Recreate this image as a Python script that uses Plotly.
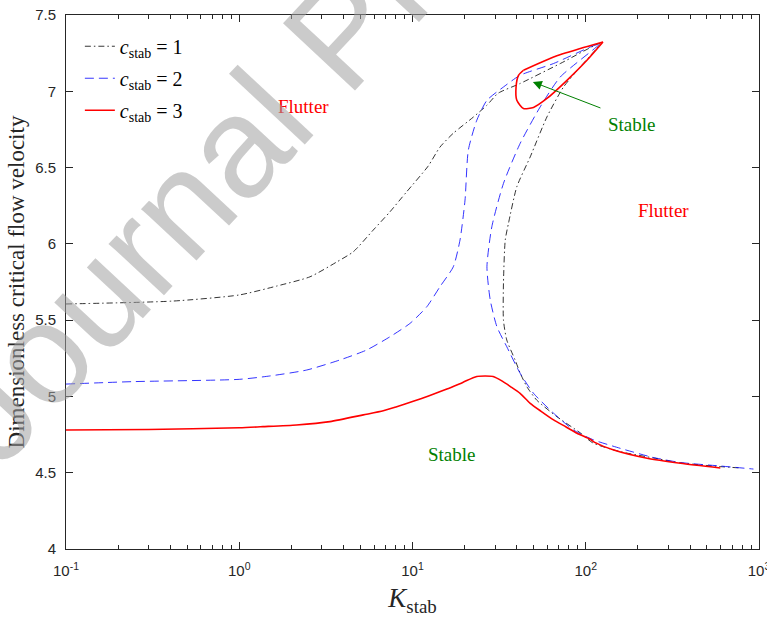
import numpy as np
import plotly.graph_objects as go

# ---- data ----
k1 = [0.1, 0.414, 1.0, 1.64, 2.56, 3.65, 4.55, 5.93, 7.41, 9.25, 12.3, 14.4, 17.2, 22.4, 26.9, 31.2, 41.8, 71.3, 121,
      93, 74.4, 59.7, 47.8, 40.0, 35.8, 34.3, 33.5, 33.5, 35.0, 39.1, 41.8, 45.7, 52.2, 68.2, 93, 110, 158, 245, 352, 598, 782]
v1 = [5.606, 5.625, 5.665, 5.723, 5.784, 5.881, 5.948, 6.09, 6.21, 6.341, 6.509, 6.634, 6.725, 6.83, 6.909, 6.987, 7.051, 7.182, 7.313,
      7.16, 7.028, 6.832, 6.57, 6.374, 6.134, 6.025, 5.743, 5.50, 5.37, 5.239, 5.154, 5.064, 4.975, 4.867, 4.761, 4.695, 4.638, 4.597, 4.564, 4.54, 4.531]

k2 = [0.1, 0.243, 1.0, 1.50, 2.45, 3.81, 5.43, 7.41, 9.68, 12.1, 14.4, 17.2, 18.8, 20.1, 21.0, 23.5, 26.9, 33.5, 41.8, 65.2, 106, 121,
      71.3, 54.6, 41.8, 33.5, 28.7, 26.9, 28.1, 30.7, 35.0, 41.8, 49.9, 65.2, 85, 111, 158, 245, 352, 598, 929]
v2 = [5.081, 5.097, 5.112, 5.134, 5.173, 5.239, 5.304, 5.391, 5.479, 5.588, 5.719, 5.85, 6.025, 6.287, 6.614, 6.81, 6.941, 7.028, 7.105, 7.182, 7.29, 7.313,
      7.094, 6.898, 6.658, 6.396, 6.112, 5.85, 5.632, 5.457, 5.326, 5.152, 5.021, 4.89, 4.78, 4.715, 4.66, 4.60, 4.567, 4.544, 4.524]

k3 = [0.1, 0.3, 1.0, 1.37, 2.14, 3.34, 5.2, 6.78, 8.11, 10.1, 12.6, 15.8, 19.5, 23.5, 29.2, 33, 36.6, 41.8, 47.8, 55,
      65.2, 77, 89, 106, 113.5, 145, 226, 352, 598]
v3 = [4.78, 4.783, 4.795, 4.802, 4.813, 4.835, 4.879, 4.906, 4.933, 4.968, 5.006, 5.048, 5.092, 5.131, 5.131, 5.10, 5.066, 5.02, 4.955, 4.904,
      4.846, 4.80, 4.759, 4.719, 4.697, 4.649, 4.595, 4.562, 4.531]

k3_loop = [43.7, 65.2, 93, 125.7, 101.6, 77.9, 59.7, 49.9, 43.7, 40.0, 39.6, 40.9, 43.7]
v3_loop = [7.138, 7.225, 7.28, 7.323, 7.203, 7.072, 6.953, 6.894, 6.887, 6.941, 7.028, 7.105, 7.138]

x_ticks = [0.1, 1, 10, 100, 1000]
x_ticklabels = ["10<sup>-1</sup>", "10<sup>0</sup>", "10<sup>1</sup>", "10<sup>2</sup>", "10<sup>3</sup>"]
y_ticks = [4, 4.5, 5, 5.5, 6, 6.5, 7, 7.5]
y_ticklabels = ["4", "4.5", "5", "5.5", "6", "6.5", "7", "7.5"]

labels = [("Flutter", 2.36, 6.90, "#ff0000"), ("Flutter", 280, 6.22, "#ff0000"),
          ("Stable", 185, 6.78, "#008000"), ("Stable", 16.9, 4.617, "#008000")]
arrow_head = (49.5, 7.061)
arrow_tail = (124, 6.887)

SERIF = "Liberation Serif, Times New Roman, serif"
SANS = "Liberation Sans, Arial, sans-serif"
AX = "#262626"

fig = go.Figure()


def add_curve(kx, vy, name, group, line, legend=True):
    """Split a curve at its turning point (max K) and draw both branches as smooth lines."""
    i = int(np.argmax(kx))
    parts = [(kx[: i + 1], vy[: i + 1]), (kx[i:], vy[i:])]
    for j, (px, py) in enumerate(parts):
        fig.add_trace(go.Scatter(x=px, y=py, mode="lines", name=name, legendgroup=group,
                                 showlegend=(legend and j == 0),
                                 line=dict(shape="spline", smoothing=0.6, **line)))


add_curve(k1, v1, "<i>c</i><sub>stab</sub> = 1", "g1", dict(color="black", width=0.8, dash="6px,3px,1.5px,3px"))
add_curve(k2, v2, "<i>c</i><sub>stab</sub> = 2", "g2", dict(color="#0000ff", width=0.8, dash="9px,5px"))
add_curve(k3, v3, "<i>c</i><sub>stab</sub> = 3", "g3", dict(color="#ff0000", width=1.6))
add_curve(k3_loop, v3_loop, "<i>c</i><sub>stab</sub> = 3", "g3", dict(color="#ff0000", width=1.6), legend=False)

for txt, kx, vy, col in labels:
    fig.add_annotation(x=np.log10(kx), y=vy, xref="x", yref="y", text=txt, showarrow=False,
                       font=dict(family=SERIF, size=19, color=col))

fig.add_annotation(x=np.log10(arrow_head[0]), y=arrow_head[1], ax=np.log10(arrow_tail[0]), ay=arrow_tail[1],
                   xref="x", yref="y", axref="x", ayref="y", text="", showarrow=True,
                   arrowhead=2, arrowsize=1.8, arrowwidth=1, arrowcolor="#008000")

# watermark
fig.add_annotation(x=0.396, y=0.966, xref="paper", yref="paper", text="Journal Pre-proof", showarrow=False,
                   textangle=-47, font=dict(family=SANS, size=143, color="rgba(160,160,160,0.55)"),
                   xanchor="center", yanchor="middle")

minor_x = [m * 10.0 ** e for e in range(-1, 3) for m in range(2, 10)]

fig.update_layout(
    width=767, height=621,
    margin=dict(l=66, r=8, t=15, b=72),
    paper_bgcolor="white", plot_bgcolor="white",
    font=dict(family=SANS, size=15, color=AX),
    showlegend=True,
    legend=dict(x=0.02, y=0.978, xanchor="left", yanchor="top", bgcolor="rgba(0,0,0,0)",
                font=dict(family=SERIF, size=20, color="black"), tracegroupgap=3, traceorder="grouped"),
    xaxis=dict(type="log", range=[-1, 3], tickmode="array", tickvals=x_ticks, ticktext=x_ticklabels,
               automargin=False,
               showgrid=False, zeroline=False, showline=True, linecolor=AX, linewidth=1, mirror="allticks",
               ticks="inside", ticklen=7, tickcolor=AX, tickwidth=1, ticklabelstandoff=8, ticklabeloverflow="allow",
               minor=dict(tickmode="array", tickvals=minor_x, ticks="inside", ticklen=4, tickcolor=AX, showgrid=False),
               tickfont=dict(family=SANS, size=15, color=AX),
               title=dict(text="<i>K</i><sub>stab</sub>", font=dict(family=SERIF, size=27, color=AX), standoff=10)),
    yaxis=dict(range=[4, 7.5], tickmode="array", tickvals=y_ticks, ticktext=y_ticklabels,
               automargin=False,
               showgrid=False, zeroline=False, showline=True, linecolor=AX, linewidth=1, mirror="allticks",
               ticks="inside", ticklen=7, tickcolor=AX, tickwidth=1, ticklabelstandoff=6,
               tickfont=dict(family=SANS, size=15, color=AX),
               title=dict(text="Dimensionless critical flow velocity", font=dict(family=SERIF, size=23, color=AX), standoff=4)),
)

fig.write_html("out.html")
